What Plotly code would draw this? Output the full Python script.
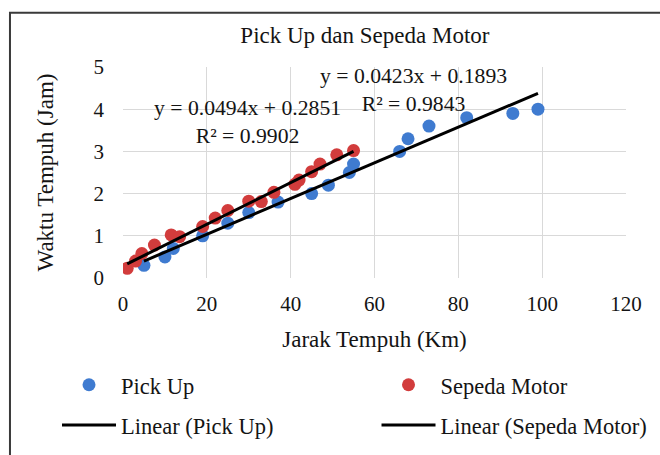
import numpy as np
import plotly.graph_objects as go

# ---- data ----
pickup_km = [5, 10, 12, 19, 25, 30, 37, 45, 49, 54, 55, 66, 68, 73, 82, 93, 99]
pickup_jam = [0.3, 0.5, 0.7, 1.0, 1.3, 1.55, 1.8, 2.0, 2.2, 2.5, 2.7, 3.0, 3.3, 3.6, 3.8, 3.9, 4.0]
motor_km = [1, 3, 4.5, 7.5, 11.5, 13.5, 19, 22, 25, 30, 33, 36, 41, 42, 45, 47, 51, 55]
motor_jam = [0.23, 0.4, 0.58, 0.78, 1.02, 0.98, 1.22, 1.42, 1.6, 1.82, 1.81, 2.03, 2.22, 2.32, 2.52, 2.7, 2.92, 3.02]
pickup_fit = [0.0423, 0.1893]   # slope, intercept
motor_fit = [0.0494, 0.2851]
pickup_r2 = 0.9843
motor_r2 = 0.9902
x_ticks = [0, 20, 40, 60, 80, 100, 120]
y_ticks = [0, 1, 2, 3, 4, 5]

FONT = "Liberation Serif"
TXT = "#141414"
BLUE = "#3F7BD0"
RED = "#D23C3C"

def fit_line(xs, coef):
    xx = np.array([min(xs), max(xs)], dtype=float)
    return xx, coef[0] * xx + coef[1]

fig = go.Figure()
fig.add_trace(go.Scatter(x=pickup_km, y=pickup_jam, mode="markers", name="Pick Up",
                         marker=dict(color=BLUE, size=13), legend="legend", legendgroup="a"))
fig.add_trace(go.Scatter(x=motor_km, y=motor_jam, mode="markers", name="Sepeda Motor",
                         marker=dict(color=RED, size=13), legend="legend2", legendgroup="c"))
px_, py_ = fit_line(pickup_km, pickup_fit)
fig.add_trace(go.Scatter(x=px_, y=py_, mode="lines", name="Linear (Pick Up)",
                         line=dict(color="black", width=3), legend="legend", legendgroup="b"))
mx_, my_ = fit_line(motor_km, motor_fit)
fig.add_trace(go.Scatter(x=mx_, y=my_, mode="lines", name="Linear (Sepeda Motor)",
                         line=dict(color="black", width=3), legend="legend2", legendgroup="d"))

def eq_text(coef, r2):
    return f"y = {coef[0]:.4f}x + {coef[1]:.4f}<br>R² = {r2:.4f}"

fig.add_annotation(text=eq_text(motor_fit, motor_r2), xref="paper", yref="paper",
                   x=0.2475, y=0.7417, xanchor="center", yanchor="middle",
                   showarrow=False, align="center", font=dict(family=FONT, size=21.7, color=TXT))
fig.add_annotation(text=eq_text(pickup_fit, pickup_r2), xref="paper", yref="paper",
                   x=0.5785, y=0.891, xanchor="center", yanchor="middle",
                   showarrow=False, align="center", font=dict(family=FONT, size=21.7, color=TXT))

# outer chart frame
fig.add_shape(type="rect", xref="paper", yref="paper", x0=-0.2247, y0=-2, x1=2, y1=1.257,
              line=dict(color="#3a3a3a", width=2), fillcolor="rgba(0,0,0,0)", layer="above")

legend_common = dict(orientation="v", font=dict(family=FONT, size=22.5, color=TXT),
                     itemwidth=54, tracegroupgap=8, traceorder="grouped",
                     bgcolor="rgba(0,0,0,0)", xanchor="left", yanchor="top", itemclick=False)

fig.update_layout(
    width=660, height=455,
    margin=dict(l=123, r=34, t=67, b=177, autoexpand=False),
    paper_bgcolor="white", plot_bgcolor="white",
    font=dict(family=FONT, size=21, color=TXT),
    title=dict(text="Pick Up dan Sepeda Motor", font=dict(family=FONT, size=23, color=TXT),
               x=0.481, xref="paper", xanchor="center", y=1 - 35 / 455, yanchor="middle"),
    xaxis=dict(range=[0, 120], tickvals=x_ticks, showgrid=True, gridcolor="#d9d9d9",
               gridwidth=1, zeroline=False, showline=False, ticks="", ticklabelstandoff=11,
               tickfont=dict(family=FONT, size=21, color=TXT), automargin=False,
               title=dict(text="Jarak Tempuh (Km)", standoff=15,
                          font=dict(family=FONT, size=23, color=TXT))),
    yaxis=dict(range=[0, 5], tickvals=y_ticks, showgrid=True, gridcolor="#d9d9d9",
               gridwidth=1, zeroline=False, showline=False, ticks="", ticklabelstandoff=18,
               tickfont=dict(family=FONT, size=21, color=TXT), automargin=False,
               title=dict(text="Waktu Tempuh (Jam)", standoff=33,
                          font=dict(family=FONT, size=23, color=TXT))),
    legend=dict(x=-0.1312, y=-0.4057, **legend_common),
    legend2=dict(x=0.504, y=-0.4057, **legend_common),
)

fig.write_html("out.html", post_script="document.body.style.margin='0';",
               config={"displayModeBar": False})
